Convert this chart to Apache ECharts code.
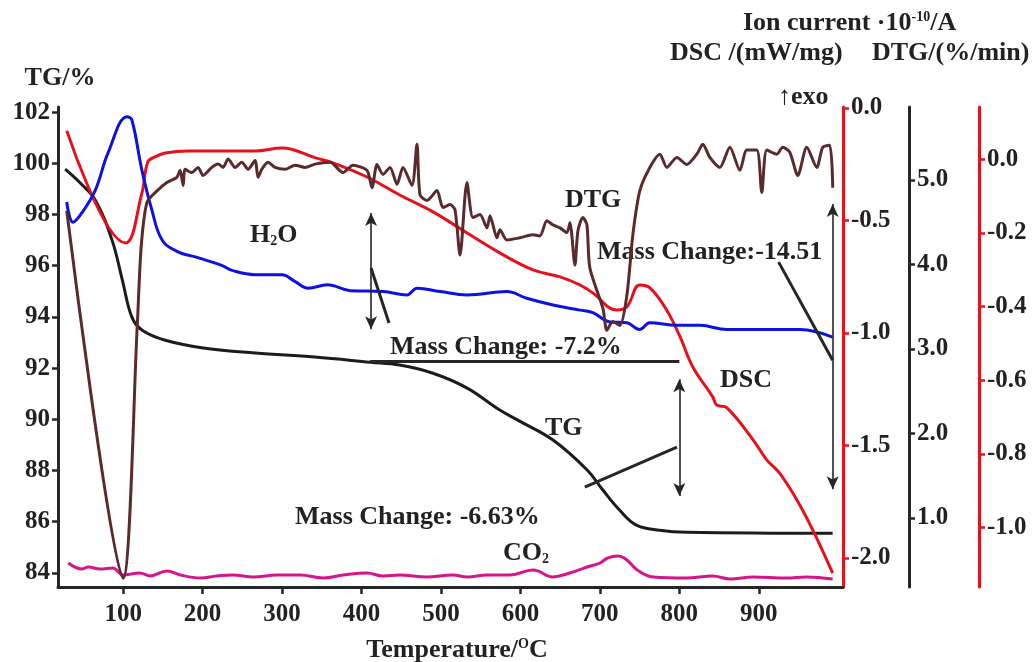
<!DOCTYPE html>
<html>
<head>
<meta charset="utf-8">
<script src="https://cdn.jsdelivr.net/npm/echarts@6/dist/echarts.min.js"></script>
<style>
  html, body { margin: 0; padding: 0; background: #fff; }
  #main { width: 1035px; height: 662px; }
</style>
</head>
<body>
<div id="main"></div>
<script>
// temperature (C) vs value
var tgData = [
  [27, 99.77], [46, 99.23], [65, 98.56], [86, 97.0], [99, 95.44], [111, 93.99], [124, 93.48],
  [153, 93.09], [203, 92.78], [266, 92.59], [341, 92.43], [411, 92.23], [448, 92.12],
  [490, 91.80], [533, 91.22], [574, 90.36], [599, 89.93], [641, 89.19], [684, 88.02],
  [704, 87.23], [725, 86.45], [746, 85.87], [775, 85.67], [810, 85.59], [993, 85.55]
];
var dscData = [
  [29, -0.101], [103, -0.600], [123.5, -0.38], [131, -0.240], [140, -0.218], [153, -0.200],
  [182, -0.191], [266, -0.191], [300, -0.178], [342, -0.222], [364, -0.244], [407, -0.307],
  [448, -0.387], [490, -0.462], [533, -0.556], [574, -0.644], [616, -0.720], [650, -0.751],
  [675, -0.787], [691, -0.822], [721, -0.898], [734, -0.884], [750, -0.787], [763, -0.800],
  [784, -0.898], [801, -1.018], [817, -1.151], [842, -1.284], [847, -1.320], [860, -1.333],
  [893, -1.476], [910, -1.564], [926, -1.622], [948, -1.742], [968, -1.876], [993, -2.067]
];
var h2oData = [
  [29, 4.74], [37, 4.50], [48, 4.61], [65, 4.88], [81, 5.32], [105, 5.75], [111, 5.71],
  [123.5, 5.12], [136, 4.65], [149, 4.29], [169, 4.15], [191, 4.09], [224, 3.99], [237, 3.93],
  [266, 3.88], [300, 3.88], [316, 3.80], [333, 3.72], [357, 3.76], [386, 3.69], [427, 3.68],
  [457, 3.64], [470, 3.72], [499, 3.68], [533, 3.64], [583, 3.68], [608, 3.60], [641, 3.52],
  [675, 3.46], [691, 3.43], [713, 3.32], [734, 3.31], [750, 3.23], [763, 3.31], [797, 3.28],
  [826, 3.28], [860, 3.23], [901, 3.23], [952, 3.23], [993, 3.14]
];
var co2Data = [
  [31, 0.467], [48, 0.396], [56, 0.420], [71, 0.396], [87, 0.408], [100, 0.325], [121, 0.349],
  [134, 0.314], [155, 0.373], [172, 0.325], [197, 0.290], [218, 0.314], [238, 0.325],
  [264, 0.302], [294, 0.325], [323, 0.325], [352, 0.290], [377, 0.325], [407, 0.349],
  [427, 0.314], [448, 0.325], [482, 0.302], [515, 0.325], [533, 0.302], [558, 0.325],
  [587, 0.325], [616, 0.385], [641, 0.302], [662, 0.349], [684, 0.420], [700, 0.467],
  [710, 0.527], [723, 0.550], [734, 0.503], [747, 0.385], [767, 0.302], [809, 0.290],
  [842, 0.314], [864, 0.278], [893, 0.302], [935, 0.290], [960, 0.302], [993, 0.278]
];
var dtgData = [
  [29, -0.140], [100, -1.137], [117.6, -0.459], [122.6, -0.240], [130, -0.117], [143, -0.085],
  [155, -0.063], [167.5, -0.049], [171.7, -0.030], [175.5, -0.071], [178, -0.027], [186.4, -0.036],
  [194.3, -0.022], [200.6, -0.044], [211.6, -0.022], [219.5, -0.013], [225.8, -0.022], [232.1, 0.001],
  [241, -0.022], [249.3, -0.008], [257.2, -0.027], [266, -0.003], [269.8, -0.049], [274.5, -0.027],
  [282.4, -0.008], [291.2, -0.022], [303.8, -0.027], [316.4, -0.016], [329, -0.022], [341.6, -0.013],
  [360.4, -0.008], [376.7, -0.036], [389.3, -0.016], [406.9, -0.030], [413.2, -0.077], [419.5, -0.014],
  [427, -0.041], [435.9, -0.022], [444.7, -0.068], [452.2, -0.022], [463.5, -0.071], [469.8, 0.041],
  [473.6, -0.096], [482.4, -0.112], [495, -0.085], [502.5, -0.131], [511.3, -0.123], [517.6, -0.137],
  [524, -0.260], [532.7, -0.063], [540.3, -0.158], [549.1, -0.150], [557.9, -0.186], [561.7, -0.153],
  [570.5, -0.213], [574.2, -0.191], [583, -0.219], [599.4, -0.213], [615.7, -0.205], [624.5, -0.208],
  [633.3, -0.167], [640.9, -0.178], [649.7, -0.186], [658.5, -0.199], [662.3, -0.172], [668.6, -0.287],
  [672.4, -0.194], [678.6, -0.158], [683.7, -0.178], [687.4, -0.295], [703.8, -0.404], [708.8, -0.464],
  [716.3, -0.440], [725.2, -0.451], [734, -0.369], [741.5, -0.205], [750.3, -0.085], [762.9, -0.022],
  [775.5, 0.014], [784.3, -0.022], [796.9, 0.005], [809.4, -0.014], [822, 0.014], [829.6, 0.041],
  [838.4, 0.005], [851, -0.022], [863.6, 0.033], [876.2, -0.030], [885, 0.025], [897.5, 0.025],
  [903.8, -0.090], [910.1, 0.025], [922.7, 0.014], [930.2, 0.033], [939, 0.019], [949.1, -0.044],
  [960.4, 0.033], [973, -0.022], [980.5, 0.033], [989.3, 0.038], [993.1, -0.077]
];

var tempTicks = [100, 200, 300, 400, 500, 600, 700, 800, 900];
var tgTicks = [84, 86, 88, 90, 92, 94, 96, 98, 100, 102];
var dscTicks = [-2.0, -1.5, -1.0, -0.5, 0.0];
var ionTicks = [1.0, 2.0, 3.0, 4.0, 5.0];
var dtgTicks = [-1.0, -0.8, -0.6, -0.4, -0.2, 0.0];

var FONT = '"Liberation Serif", "Times New Roman", serif';
var DARK = '#262626';
var RED = '#e5121b';
var TICKFS = 25;
var TEXTFS = 26;

var chart = echarts.init(document.getElementById('main'));

function fix1(v) { return v.toFixed(1); }

function yAx(opt) {
  return {
    type: 'value',
    position: opt.pos,
    offset: opt.offset || 0,
    min: opt.min,
    max: opt.max,
    splitLine: { show: false },
    axisLine: { show: true, onZero: false, lineStyle: { color: opt.color, width: 3 } },
    axisTick: { show: true, length: 6, customValues: opt.ticks, lineStyle: { color: opt.color, width: 2.5 } },
    axisLabel: {
      customValues: opt.ticks,
      formatter: opt.fmt,
      margin: 8,
      fontFamily: FONT, fontWeight: 'bold', fontSize: TICKFS, color: '#222'
    }
  };
}

function txt(x, y, text, align, rich) {
  var st = {
    text: text, x: 0, y: 0,
    align: align || 'left', verticalAlign: 'middle',
    fontFamily: FONT, fontWeight: 'bold', fontSize: TEXTFS, fill: '#222'
  };
  if (rich) st.rich = rich;
  return { type: 'text', x: x, y: y, silent: true, style: st };
}
var subRich = {
  n: { fontFamily: FONT, fontWeight: 'bold', fontSize: TEXTFS, color: '#222' },
  s: { fontFamily: FONT, fontWeight: 'bold', fontSize: 14, color: '#222', verticalAlign: 'bottom' }
};
var supRich = {
  n: { fontFamily: FONT, fontWeight: 'bold', fontSize: TEXTFS, color: '#222' },
  s: { fontFamily: FONT, fontWeight: 'bold', fontSize: 14, color: '#222', verticalAlign: 'top' }
};

function arrow(x, y1, y2) {
  return [
    { coord: [x, y1], symbol: 'arrow', symbolSize: [9, 13], lineStyle: { width: 1.6, color: DARK } },
    { coord: [x, y2], symbol: 'arrow', symbolSize: [9, 13] }
  ];
}
function seg(x1, y1, x2, y2) {
  return [
    { coord: [x1, y1], symbol: 'none', lineStyle: { width: 3, color: DARK } },
    { coord: [x2, y2], symbol: 'none' }
  ];
}

var option = {
  animation: false,
  backgroundColor: '#fff',
  grid: { left: 58, right: 192, top: 107, bottom: 75, containLabel: false },
  xAxis: {
    type: 'value',
    min: 18,
    max: 1006,
    splitLine: { show: false },
    axisLine: { onZero: false, lineStyle: { color: DARK, width: 3 } },
    axisTick: { length: 7, customValues: tempTicks, lineStyle: { color: DARK, width: 2.5 } },
    axisLabel: {
      customValues: tempTicks,
      margin: 15,
      fontFamily: FONT, fontWeight: 'bold', fontSize: TICKFS, color: '#222'
    }
  },
  yAxis: [
    yAx({ pos: 'left', min: 83.45, max: 102.2, ticks: tgTicks, color: DARK }),
    yAx({ pos: 'right', min: -2.129, max: 0.004, ticks: dscTicks, color: RED, fmt: fix1 }),
    yAx({ pos: 'right', offset: 66, min: 0.183, max: 5.864, ticks: ionTicks, color: DARK, fmt: fix1 }),
    yAx({ pos: 'right', offset: 136, min: -1.161, max: 0.142, ticks: dtgTicks, color: RED, fmt: fix1 })
  ],
  series: [
    {
      name: 'TG', type: 'line', yAxisIndex: 0, data: tgData, showSymbol: false, smooth: 0.4,
      lineStyle: { color: '#1c1c1c', width: 3 }, z: 3,
      markLine: {
        silent: true,
        label: { show: false },
        lineStyle: { type: 'solid', color: DARK },
        data: [
          arrow(412, 98.06, 93.52),
          seg(412, 95.91, 434.6, 93.76),
          seg(410.7, 92.27, 800, 92.27),
          arrow(800, 91.57, 87.0),
          seg(681, 87.35, 797, 88.91),
          arrow(993, 98.41, 87.27),
          seg(925, 96.14, 993, 92.31)
        ]
      }
    },
    {
      name: 'DSC', type: 'line', yAxisIndex: 1, data: dscData, showSymbol: false, smooth: 0.4,
      lineStyle: { color: RED, width: 3 }, z: 3
    },
    {
      name: 'H2O', type: 'line', yAxisIndex: 2, data: h2oData, showSymbol: false, smooth: 0.4,
      lineStyle: { color: '#0c12e0', width: 3 }, z: 3
    },
    {
      name: 'CO2', type: 'line', yAxisIndex: 2, data: co2Data, showSymbol: false, smooth: 0.4,
      lineStyle: { color: '#d4168a', width: 3 }, z: 3
    },
    {
      name: 'DTG', type: 'line', yAxisIndex: 3, data: dtgData, showSymbol: false, smooth: 0.25,
      lineStyle: { color: '#5a2a2c', width: 3 }, z: 4
    }
  ],
  graphic: [
    txt(60, 78, 'TG/%', 'center'),
    txt(743, 23, '{n|Ion current ·10}{s|-10}{n|/A}', 'left', supRich),
    txt(670, 53, 'DSC /(mW/mg)'),
    txt(872, 53, 'DTG/(%/min)'),
    txt(778, 97, '↑exo'),
    txt(457, 650, '{n|Temperature/}{s|O}{n|C}', 'center', supRich),
    txt(250, 235, '{n|H}{s|2}{n|O}', 'left', subRich),
    txt(565, 200, 'DTG'),
    txt(597, 252, 'Mass Change:-14.51'),
    txt(390, 347, 'Mass Change: -7.2%'),
    txt(720, 380, 'DSC'),
    txt(545, 428, 'TG'),
    txt(295, 517, 'Mass Change: -6.63%'),
    txt(503, 553, '{n|CO}{s|2}', 'left', subRich)
  ]
};

chart.setOption(option);
</script>
</body>
</html>
